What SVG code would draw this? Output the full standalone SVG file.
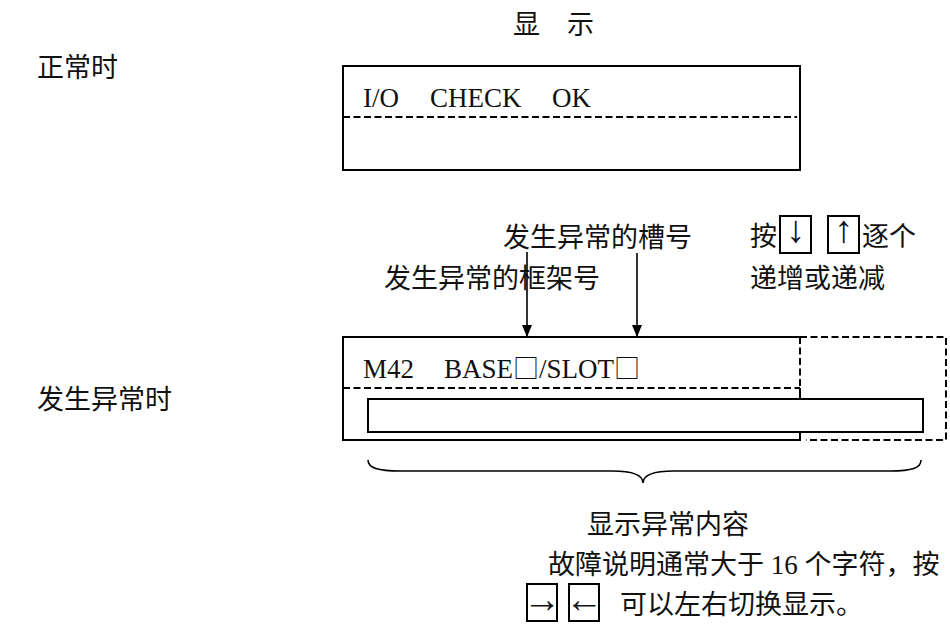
<svg xmlns="http://www.w3.org/2000/svg" width="950" height="625" viewBox="0 0 950 625">
<style>
.cjk{font-family:"Noto Sans CJK SC","Noto Sans CJK JP",sans-serif;font-size:27px;fill:#111}
.lat{font-family:"Liberation Serif","Noto Sans CJK SC",serif;font-size:27px;fill:#111}
.sym{font-family:"Noto Sans CJK SC",sans-serif;font-size:26px;fill:#111}
.arr{font-family:"Liberation Serif","DejaVu Serif",serif;font-size:38px;fill:#111}
.box{fill:none;stroke:#000;stroke-width:2}
.dash{fill:none;stroke:#000;stroke-width:2;stroke-dasharray:7,3.5}
.thin{fill:none;stroke:#000;stroke-width:1.6}
</style>
<defs>
<marker id="ah" viewBox="0 0 12 10" refX="12" refY="5" markerWidth="12" markerHeight="10" markerUnits="userSpaceOnUse" orient="auto">
<path d="M0,0 L12,5 L0,10 Z" fill="#000"/>
</marker>
</defs>
<rect width="950" height="625" fill="#fff"/>
<g id="title"><text class="cjk" x="513" y="34">显</text><text class="cjk" x="567" y="34">示</text></g>
<g id="label-normal"><text class="cjk" x="37" y="77">正常时</text></g>
<g id="label-error"><text class="cjk" x="37" y="409">发生异常时</text></g>
<g id="display-normal">
<rect class="box" x="343" y="66" width="457" height="104"/>
<line class="dash" x1="343" y1="117" x2="797" y2="117"/>
<text class="lat" y="107"><tspan x="363">I/O</tspan><tspan x="430">CHECK</tspan><tspan x="552">OK</tspan></text>
</g>
<g id="display-error">
<path class="box" d="M800,337 L343,337 L343,440 L800,440 L800,388"/>
<line class="dash" x1="800" y1="337" x2="800" y2="388"/>
<line class="dash" x1="343" y1="388" x2="800" y2="388"/>
<path class="dash" d="M800,337 L946,337 L946,440 L806,440"/>
<rect x="368" y="399" width="555" height="33" fill="#fff" stroke="#000" stroke-width="2"/>
<text class="lat" y="378"><tspan x="363">M42</tspan><tspan x="444">BASE</tspan><tspan class="sym">□</tspan><tspan>/SLOT</tspan><tspan class="sym">□</tspan></text>
</g>
<g id="note-slot"><text class="cjk" x="503" y="247">发生异常的槽号</text></g>
<g id="note-base"><text class="cjk" x="384" y="288">发生异常的框架号</text></g>
<g id="note-keys">
<text class="cjk" x="750" y="246">按</text>
<rect class="box" x="780" y="216" width="31" height="37"/>
<text class="arr" x="795.5" y="242" text-anchor="middle">↓</text>
<rect class="box" x="828" y="216" width="31" height="37"/>
<text class="arr" x="843.5" y="242" text-anchor="middle">↑</text>
<text class="cjk" x="862" y="246">逐个</text>
<text class="cjk" x="750" y="288">递增或递减</text>
</g>
<g id="brace"><path class="thin" d="M368,460 C368,468 378,471 400,471 L612,471 C632,471 643,475 643,483 C643,475 654,471 674,471 L890,471 C912,471 921,468 921,460"/></g>
<g id="note-content">
<text class="cjk" x="587" y="534">显示异常内容</text>
<text class="cjk" x="548" y="574">故障说明通常大于<tspan class="lat"> 16 </tspan>个字符，按</text>
<rect class="box" x="527" y="584" width="30" height="37"/>
<text class="arr" x="542" y="612" text-anchor="middle">→</text>
<rect class="box" x="569" y="584" width="30" height="37"/>
<text class="arr" x="584" y="612" text-anchor="middle">←</text>
<text class="cjk" x="620" y="614">可以左右切换显示。</text>
</g>
<g id="connectors">
<line class="thin" x1="527" y1="252" x2="527" y2="337" marker-end="url(#ah)"/>
<line class="thin" x1="637" y1="253" x2="637" y2="337" marker-end="url(#ah)"/>
</g>
</svg>
